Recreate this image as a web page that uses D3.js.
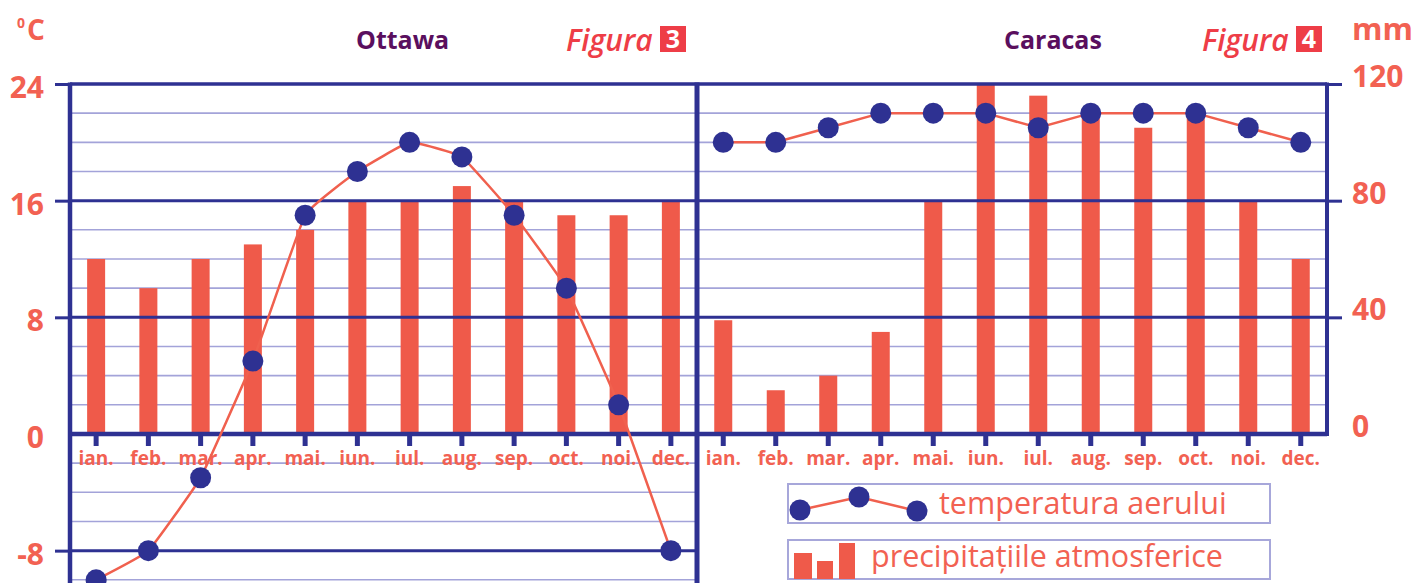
<!DOCTYPE html>
<html>
<head>
<meta charset="utf-8">
<script src="https://cdn.jsdelivr.net/npm/d3@7"></script>
<style>
    body { margin: 0; background: #fff; }
    svg { display: block; }
</style>
</head>
<body>
<div id="chart"></div>
<script>
// data
var months = ["ian.", "feb.", "mar.", "apr.", "mai.", "iun.", "iul.", "aug.", "sep.", "oct.", "noi.", "dec."];
var ottawaTemp = [-10, -8, -3, 5, 15, 18, 20, 19, 15, 10, 2, -8];
var ottawaPrecip = [60, 50, 60, 65, 70, 80, 80, 85, 80, 75, 75, 80];
var caracasTemp = [20, 20, 21, 22, 22, 22, 21, 22, 22, 22, 21, 20];
var caracasPrecip = [39, 15, 20, 35, 80, 120, 116, 110, 105, 110, 80, 60];
var tempTicks = [24, 16, 8, 0, -8];
var precipTicks = [120, 80, 40, 0];
var legendLabels = ["temperatura aerului", "precipitațiile atmosferice"];

var ClimateChart = (function () {
    function ClimateChart(divId) {
        this.divId = divId;
        this.width = 1415;
        this.height = 583;
        this.navy = "#2e3192";
        this.minor = "#a3a3d9";
        this.red = "#ef5a4a";
        this.label = "#f26152";
        this.yTemp = d3.scaleLinear().domain([-10, 24]).range([579.8, 84]);
        this.yPrecip = d3.scaleLinear().domain([0, 120]).range([434, 84]);
        this.xOttawa = d3.scaleBand().domain(months).range([70, 697]);
        this.xCaracas = d3.scaleBand().domain(months).range([697, 1327]);
        this.initialize();
    }
    ClimateChart.prototype.initialize = function () {
        this.svg = d3.select("#" + this.divId).append("svg")
            .attr("width", this.width)
            .attr("height", this.height)
            .style("font-family", "'Open Sans', sans-serif");
        this.gMinor = this.svg.append("g").attr("class", "minorGrid");
        this.gBars = this.svg.append("g").attr("class", "bars");
        this.gMajor = this.svg.append("g").attr("class", "majorGrid");
        this.gAxes = this.svg.append("g").attr("class", "axes");
        this.gLines = this.svg.append("g").attr("class", "lines");
        this.gText = this.svg.append("g").attr("class", "titles");
    };
    /**
     * Draws thin and thick horizontal lines of one panel
     */
    ClimateChart.prototype.drawGrid = function (x0, x1, minT) {
        var _this = this;
        this.gMinor.selectAll(null)
            .data(d3.range(minT, 25, 2).filter(function (d) { return d % 8 !== 0; }))
            .enter().append("line")
            .attr("x1", x0).attr("x2", x1)
            .attr("y1", function (d) { return _this.yTemp(d); })
            .attr("y2", function (d) { return _this.yTemp(d); })
            .attr("stroke", this.minor)
            .attr("stroke-width", 1.6);
        this.gMajor.selectAll(null)
            .data(tempTicks.filter(function (d) { return d >= minT; }))
            .enter().append("line")
            .attr("x1", x0).attr("x2", x1)
            .attr("y1", function (d) { return _this.yTemp(d); })
            .attr("y2", function (d) { return _this.yTemp(d); })
            .attr("stroke", this.navy)
            .attr("stroke-width", function (d) { return d === 0 ? 4.5 : 3; });
    };
    ClimateChart.prototype.drawPanel = function (xScale, temps, precip, curve) {
        var _this = this;
        var bw = 18;
        this.gBars.selectAll(null)
            .data(precip)
            .enter().append("rect")
            .attr("x", function (d, i) { return xScale(months[i]) + xScale.bandwidth() / 2 - bw / 2; })
            .attr("y", function (d) { return _this.yPrecip(d); })
            .attr("width", bw)
            .attr("height", function (d) { return _this.yPrecip(0) - _this.yPrecip(d); })
            .attr("fill", this.red);

        var line = d3.line()
            .x(function (d, i) { return xScale(months[i]) + xScale.bandwidth() / 2; })
            .y(function (d) { return _this.yTemp(d); })
            .curve(curve);
        this.gLines.append("path")
            .attr("d", line(temps))
            .attr("fill", "none")
            .attr("stroke", "#f0604e")
            .attr("stroke-width", 2.5);
        this.gLines.selectAll(null)
            .data(temps)
            .enter().append("circle")
            .attr("cx", function (d, i) { return xScale(months[i]) + xScale.bandwidth() / 2; })
            .attr("cy", function (d) { return _this.yTemp(d); })
            .attr("r", 10.5)
            .attr("fill", this.navy);

        var xAxis = d3.axisBottom(xScale).tickSize(12).tickSizeOuter(0).tickPadding(6);
        var g = this.gAxes.append("g")
            .attr("transform", "translate(0," + this.yTemp(0) + ")")
            .call(xAxis);
        g.select(".domain").remove();
        g.selectAll(".tick line").attr("stroke", this.navy).attr("stroke-width", 5);
        g.selectAll(".tick text")
            .attr("fill", this.label)
            .style("font-family", "'Liberation Sans Narrow', 'Open Sans', sans-serif")
            .style("font-weight", "bold")
            .style("font-size", "19px");
    };
    ClimateChart.prototype.drawAxes = function () {
        var plain = function (d) { return String(d); };
        var left = this.gAxes.append("g")
            .attr("transform", "translate(70,0)")
            .call(d3.axisLeft(this.yTemp).tickValues(tempTicks).tickFormat(plain).tickSize(15).tickPadding(11));
        left.select(".domain").remove();
        left.selectAll(".tick line").attr("stroke", this.navy).attr("stroke-width", 3)
            .attr("opacity", function (d) { return d === 0 ? 0 : 1; });
        left.selectAll(".tick text")
            .attr("dy", "0.45em")
            .attr("fill", this.label)
            .style("font-family", "'Open Sans', sans-serif")
            .style("font-weight", "bold")
            .style("font-size", "30px");

        var right = this.gAxes.append("g")
            .attr("transform", "translate(1327,0)")
            .call(d3.axisRight(this.yPrecip).tickValues(precipTicks).tickFormat(plain).tickSize(15).tickPadding(10));
        right.select(".domain").remove();
        right.selectAll(".tick line").attr("stroke", this.navy).attr("stroke-width", 3)
            .attr("opacity", function (d) { return d === 0 ? 0 : 1; });
        right.selectAll(".tick text")
            .attr("dy", "0.08em")
            .attr("fill", this.label)
            .style("font-family", "'Open Sans', sans-serif")
            .style("font-weight", "bold")
            .style("font-size", "30px");

        // frame: top line and verticals
        this.gAxes.append("line")
            .attr("x1", 70).attr("x2", 1327)
            .attr("y1", this.yTemp(24)).attr("y2", this.yTemp(24))
            .attr("stroke", this.navy).attr("stroke-width", 3);
        var verticals = [
            { x: 70, y2: this.height, w: 4.5 },
            { x: 697, y2: this.height, w: 5 },
            { x: 1327, y2: this.yPrecip(0) + 2, w: 4 }
        ];
        this.gAxes.selectAll(null)
            .data(verticals)
            .enter().append("line")
            .attr("x1", function (d) { return d.x; })
            .attr("x2", function (d) { return d.x; })
            .attr("y1", this.yTemp(24) - 1.5)
            .attr("y2", function (d) { return d.y2; })
            .attr("stroke", this.navy)
            .attr("stroke-width", function (d) { return d.w; });
    };
    ClimateChart.prototype.drawTitles = function () {
        var t = this.gText;
        t.append("text").attr("x", 17).attr("y", 28).text("0")
            .attr("fill", this.label).style("font-weight", "bold").style("font-size", "14px");
        t.append("text").attr("x", 27).attr("y", 40).text("C")
            .attr("fill", this.label).style("font-weight", "bold").style("font-size", "28px");
        t.append("text").attr("x", 1352).attr("y", 40).text("mm")
            .attr("fill", this.label).style("font-weight", "bold").style("font-size", "31px");

        var heads = [
            { city: "Ottawa", cx: 356, fx: 566, bx: 660, n: "3" },
            { city: "Caracas", cx: 1004, fx: 1202, bx: 1296, n: "4" }
        ];
        heads.forEach(function (h) {
            t.append("text").attr("x", h.cx).attr("y", 49).text(h.city)
                .attr("fill", "#5a0f5e").style("font-weight", "bold").style("font-size", "25px");
            t.append("text").attr("x", h.fx).attr("y", 51).text("Figura")
                .attr("fill", "#ee3d47").style("font-style", "italic").style("font-weight", "600")
                .style("font-size", "30px");
            t.append("rect").attr("x", h.bx).attr("y", 26).attr("width", 26).attr("height", 26)
                .attr("fill", "#ee3d47");
            t.append("text").attr("x", h.bx + 13).attr("y", 48).attr("text-anchor", "middle").text(h.n)
                .attr("fill", "#fff").style("font-weight", "bold").style("font-size", "25px");
        });
    };
    ClimateChart.prototype.drawLegend = function () {
        var g = this.svg.append("g").attr("class", "legend");
        var boxes = [{ y: 484, h: 39 }, { y: 540, h: 39 }];
        g.selectAll(null)
            .data(boxes)
            .enter().append("rect")
            .attr("x", 788).attr("y", function (d) { return d.y; })
            .attr("width", 482).attr("height", function (d) { return d.h; })
            .attr("fill", "none").attr("stroke", "#a7a7da").attr("stroke-width", 2);

        var pts = [[800, 510], [859, 497], [917, 511]];
        g.append("path").attr("d", d3.line()(pts))
            .attr("fill", "none").attr("stroke", "#f0604e").attr("stroke-width", 2.5);
        g.selectAll(null).data(pts).enter().append("circle")
            .attr("cx", function (d) { return d[0]; }).attr("cy", function (d) { return d[1]; })
            .attr("r", 10.5).attr("fill", this.navy);

        var sb = [{ x: 794, y: 553, w: 18 }, { x: 817, y: 561, w: 16 }, { x: 839, y: 543, w: 16 }];
        var _this = this;
        g.selectAll(null).data(sb).enter().append("rect")
            .attr("x", function (d) { return d.x; }).attr("y", function (d) { return d.y; })
            .attr("width", function (d) { return d.w; })
            .attr("height", function (d) { return 579 - d.y; })
            .attr("fill", _this.red);

        g.append("text").attr("x", 939).attr("y", 514).text(legendLabels[0])
            .attr("fill", this.label).style("font-size", "30.5px");
        g.append("text").attr("x", 871).attr("y", 567).text(legendLabels[1])
            .attr("fill", this.label).style("font-size", "30.5px");
    };
    ClimateChart.prototype.render = function () {
        this.drawGrid(70, 697, -10);
        this.drawGrid(697, 1327, 0);
        this.drawPanel(this.xOttawa, ottawaTemp, ottawaPrecip, d3.curveCardinal.tension(0.7));
        this.drawPanel(this.xCaracas, caracasTemp, caracasPrecip, d3.curveLinear);
        this.drawAxes();
        this.drawTitles();
        this.drawLegend();
    };
    return ClimateChart;
}());

var chart = new ClimateChart("chart");
chart.render();
</script>
</body>
</html>
